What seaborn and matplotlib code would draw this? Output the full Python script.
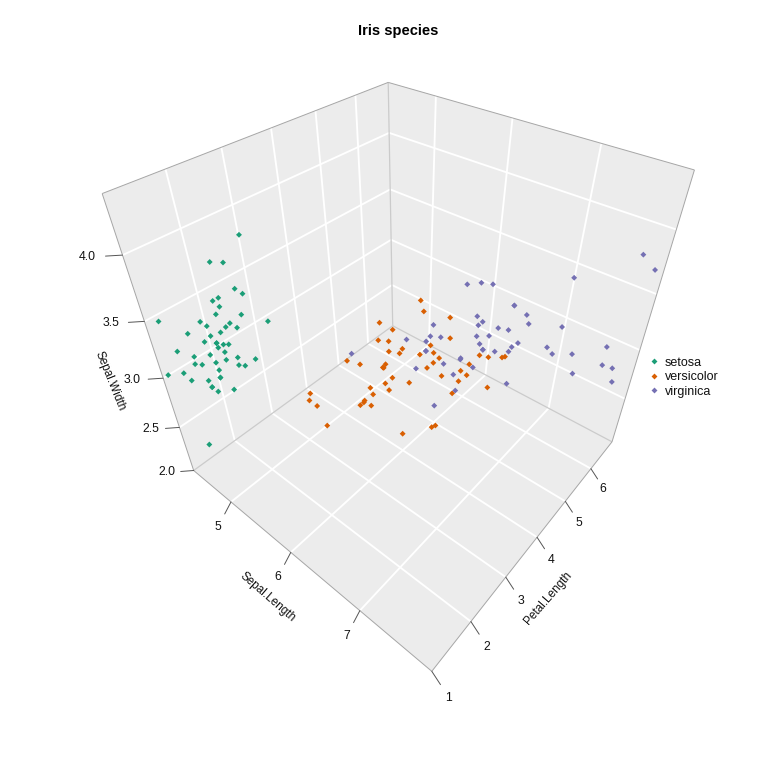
import numpy as np
import pandas as pd
import matplotlib
matplotlib.use("Agg")
import matplotlib.pyplot as plt
import seaborn as sns

# Iris measurements, one list per variable and species
setosa_sepal_length = [5.1,4.9,4.7,4.6,5.0,5.4,4.6,5.0,4.4,4.9,5.4,4.8,4.8,4.3,5.8,5.7,5.4,5.1,5.7,5.1,5.4,5.1,4.6,5.1,4.8,5.0,5.0,5.2,5.2,4.7,4.8,5.4,5.2,5.5,4.9,5.0,5.5,4.9,4.4,5.1,5.0,4.5,4.4,5.0,5.1,4.8,5.1,4.6,5.3,5.0]
setosa_sepal_width = [3.5,3.0,3.2,3.1,3.6,3.9,3.4,3.4,2.9,3.1,3.7,3.4,3.0,3.0,4.0,4.4,3.9,3.5,3.8,3.8,3.4,3.7,3.6,3.3,3.4,3.0,3.4,3.5,3.4,3.2,3.1,3.4,4.1,4.2,3.1,3.2,3.5,3.6,3.0,3.4,3.5,2.3,3.2,3.5,3.8,3.0,3.8,3.2,3.7,3.3]
setosa_petal_length = [1.4,1.4,1.3,1.5,1.4,1.7,1.4,1.5,1.4,1.5,1.5,1.6,1.4,1.1,1.2,1.5,1.3,1.4,1.7,1.5,1.7,1.5,1.0,1.7,1.9,1.6,1.6,1.5,1.4,1.6,1.6,1.5,1.5,1.4,1.5,1.2,1.3,1.4,1.3,1.5,1.3,1.3,1.3,1.6,1.9,1.4,1.6,1.4,1.5,1.4]

versicolor_sepal_length = [7.0,6.4,6.9,5.5,6.5,5.7,6.3,4.9,6.6,5.2,5.0,5.9,6.0,6.1,5.6,6.7,5.6,5.8,6.2,5.6,5.9,6.1,6.3,6.1,6.4,6.6,6.8,6.7,6.0,5.7,5.5,5.5,5.8,6.0,5.4,6.0,6.7,6.3,5.6,5.5,5.5,6.1,5.8,5.0,5.6,5.7,5.7,6.2,5.1,5.7]
versicolor_sepal_width = [3.2,3.2,3.1,2.3,2.8,2.8,3.3,2.4,2.9,2.7,2.0,3.0,2.2,2.9,2.9,3.1,3.0,2.7,2.2,2.5,3.2,2.8,2.5,2.8,2.9,3.0,2.8,3.0,2.9,2.6,2.4,2.4,2.7,2.7,3.0,3.4,3.1,2.3,3.0,2.5,2.6,3.0,2.6,2.3,2.7,3.0,2.9,2.9,2.5,2.8]
versicolor_petal_length = [4.7,4.5,4.9,4.0,4.6,4.5,4.7,3.3,4.6,3.9,3.5,4.2,4.0,4.7,3.6,4.4,4.5,4.1,4.5,3.9,4.8,4.0,4.9,4.7,4.3,4.4,4.8,5.0,4.5,3.5,3.8,3.7,3.9,5.1,4.5,4.5,4.7,4.4,4.1,4.0,4.4,4.6,4.0,3.3,4.2,4.2,4.2,4.3,3.0,4.1]

virginica_sepal_length = [6.3,5.8,7.1,6.3,6.5,7.6,4.9,7.3,6.7,7.2,6.5,6.4,6.8,5.7,5.8,6.4,6.5,7.7,7.7,6.0,6.9,5.6,7.7,6.3,6.7,7.2,6.2,6.1,6.4,7.2,7.4,7.9,6.4,6.3,6.1,7.7,6.3,6.4,6.0,6.9,6.7,6.9,5.8,6.8,6.7,6.7,6.3,6.5,6.2,5.9]
virginica_sepal_width = [3.3,2.7,3.0,2.9,3.0,3.0,2.5,2.9,2.5,3.6,3.2,2.7,3.0,2.5,2.8,3.2,3.0,3.8,2.6,2.2,3.2,2.8,2.8,2.7,3.3,3.2,2.8,3.0,2.8,3.0,2.8,3.8,2.8,2.8,2.6,3.0,3.4,3.1,3.0,3.1,3.1,3.1,2.7,3.2,3.3,3.0,2.5,3.0,3.4,3.0]
virginica_petal_length = [6.0,5.1,5.9,5.6,5.8,6.6,4.5,6.3,5.8,6.1,5.1,5.3,5.5,5.0,5.1,5.3,5.5,6.7,6.9,5.0,5.7,4.9,6.7,4.9,5.7,6.0,4.8,4.9,5.6,5.8,6.1,6.4,5.6,5.1,5.6,6.1,5.6,5.5,4.8,5.4,5.6,5.1,5.1,5.9,5.7,5.2,5.0,5.2,5.4,5.1]

species_names = ["setosa", "versicolor", "virginica"]
species_colors = ["#1B9E77", "#D95F02", "#7570B3"]
sepal_length_ticks = [5, 6, 7]
petal_length_ticks = [1, 2, 3, 4, 5, 6]
sepal_width_ticks = [2.0, 2.5, 3.0, 3.5, 4.0]

# Extent of the plotting box in data units
X0, X1 = 4.3, 7.9
Y0, Y1 = 1.0, 6.9
Z0, Z1 = 2.0, 4.4

# Camera calibration: box locations and where they fall on the canvas (pixels)
anchors = [
    ((X1, Y0, Z0), (432.2, 670.7)), ((X0, Y0, Z0), (194.0, 470.0)),
    ((X1, Y1, Z0), (612.0, 441.0)), ((X0, Y1, Z0), (392.7, 326.0)),
    ((X0, Y0, Z1), (102.7, 193.3)), ((X1, Y1, Z1), (694.3, 170.0)),
    ((X0, Y1, Z1), (388.3, 82.3)),
    ((5, Y0, Z0), (231.0, 501.7)), ((6, Y0, Z0), (291.0, 552.7)),
    ((7, Y0, Z0), (359.3, 611.0)),
    ((X1, 2, Z0), (471.0, 621.7)), ((X1, 3, Z0), (505.7, 577.3)),
    ((X1, 4, Z0), (537.0, 537.3)), ((X1, 5, Z0), (565.3, 501.7)),
    ((X1, 6, Z0), (591.0, 469.0)),
    ((X0, Y0, 2.5), (179.3, 427.3)), ((X0, Y0, 3.0), (162.7, 378.7)),
    ((X0, Y0, 3.5), (144.3, 321.3)), ((X0, Y0, 4.0), (122.3, 255.3)),
]


def fit_camera(pairs):
    """Least-squares 3x4 projective camera from 3D/2D correspondences."""
    rows, rhs = [], []
    for (x, y, z), (u, v) in pairs:
        rows.append([x, y, z, 1, 0, 0, 0, 0, -u * x, -u * y, -u * z])
        rows.append([0, 0, 0, 0, x, y, z, 1, -v * x, -v * y, -v * z])
        rhs += [u, v]
    p = np.linalg.lstsq(np.array(rows, float), np.array(rhs, float), rcond=None)[0]
    return np.append(p, 1.0).reshape(3, 4)


CAMERA = fit_camera(anchors)


def project(x, y, z):
    """Perspective projection of data coordinates onto the canvas."""
    pts = np.column_stack([np.ravel(x), np.ravel(y), np.ravel(z), np.ones(np.size(x))])
    h = pts @ CAMERA.T
    return h[:, 0] / h[:, 2], h[:, 1] / h[:, 2]


frames = []
for name, sl, sw, pl in [
    ("setosa", setosa_sepal_length, setosa_sepal_width, setosa_petal_length),
    ("versicolor", versicolor_sepal_length, versicolor_sepal_width, versicolor_petal_length),
    ("virginica", virginica_sepal_length, virginica_sepal_width, virginica_petal_length),
]:
    frames.append(pd.DataFrame({"Species": name, "Sepal.Length": sl,
                                "Sepal.Width": sw, "Petal.Length": pl}))
iris = pd.concat(frames, ignore_index=True)
iris["screen_x"], iris["screen_y"] = project(iris["Sepal.Length"], iris["Petal.Length"], iris["Sepal.Width"])

sns.set_theme(style="white")
plt.rcParams["font.family"] = ["Liberation Sans", "DejaVu Sans"]

fig = plt.figure(figsize=(7.68, 7.68), dpi=100)
ax = fig.add_axes([0, 0, 1, 1])

PANE = "#ECECEC"
OUTER = "#A6A6A6"
INNER = "#CBCBCB"
TEXT = "#111111"


def segment(a, b, **kw):
    xs, ys = project(*np.array([a, b], float).T)
    ax.plot(xs, ys, solid_capstyle="butt", **kw)


def pane(corners):
    xs, ys = project(*np.array(corners, float).T)
    ax.fill(xs, ys, color=PANE, lw=0, zorder=1)


# Three back panes of the box
pane([(X0, Y0, Z0), (X1, Y0, Z0), (X1, Y1, Z0), (X0, Y1, Z0)])
pane([(X0, Y0, Z0), (X0, Y1, Z0), (X0, Y1, Z1), (X0, Y0, Z1)])
pane([(X0, Y1, Z0), (X1, Y1, Z0), (X1, Y1, Z1), (X0, Y1, Z1)])

# White reference grid on each pane
grid = dict(color="white", lw=1.35, zorder=2)
for x in sepal_length_ticks:
    segment((x, Y0, Z0), (x, Y1, Z0), **grid)
    segment((x, Y1, Z0), (x, Y1, Z1), **grid)
for y in petal_length_ticks[1:]:
    segment((X0, y, Z0), (X1, y, Z0), **grid)
    segment((X0, y, Z0), (X0, y, Z1), **grid)
for z in sepal_width_ticks[1:]:
    segment((X0, Y0, z), (X0, Y1, z), **grid)
    segment((X0, Y1, z), (X1, Y1, z), **grid)

# Box outline
for a, b in [((X0, Y1, Z0), (X0, Y0, Z0)), ((X0, Y1, Z0), (X1, Y1, Z0)), ((X0, Y1, Z0), (X0, Y1, Z1))]:
    segment(a, b, color=INNER, lw=0.9, zorder=3)
for a, b in [((X0, Y0, Z0), (X1, Y0, Z0)), ((X1, Y0, Z0), (X1, Y1, Z0)),
             ((X0, Y0, Z0), (X0, Y0, Z1)), ((X1, Y1, Z0), (X1, Y1, Z1)),
             ((X0, Y0, Z1), (X0, Y1, Z1)), ((X0, Y1, Z1), (X1, Y1, Z1))]:
    segment(a, b, color=OUTER, lw=0.7, zorder=3)

sns.scatterplot(data=iris, x="screen_x", y="screen_y", hue="Species",
                hue_order=species_names, palette=species_colors, marker="D",
                s=9, linewidth=0, zorder=4, legend="brief", ax=ax)

tick = dict(color="#555555", lw=0.7, zorder=3)
label = dict(fontsize=8.8, color=TEXT, ha="center", va="center")
axis_title = dict(label, fontsize=8.5)

# Sepal.Width axis on the left vertical edge
for z in sepal_width_ticks:
    px, py = project(X0, Y0, z)
    t = z - 2.0
    ax.plot([px[0], px[0] - 13 - 2 * t], [py[0], py[0] + 1], **tick)
    ax.text(px[0] - 26.5 - 4.25 * t, py[0] + 2, f"{z:.1f}", **label)

# Sepal.Length axis on the front-left floor edge
for x in sepal_length_ticks:
    px, py = project(x, Y0, Z0)
    ax.plot([px[0], px[0] - 6.3], [py[0], py[0] + 12], **tick)
    ax.text(px[0] - 12.7, py[0] + 25, str(x), **label)

# Petal.Length axis on the front-right floor edge
for y in petal_length_ticks:
    px, py = project(X1, y, Z0)
    s = y - 1
    ax.plot([px[0], px[0] + 8.7 - 0.4 * s], [py[0], py[0] + 13.3 - 0.6 * s], **tick)
    ax.text(px[0] + 17 - 0.95 * s, py[0] + 26.3 - 1.2 * s, str(y), **label)

ax.text(110, 381, "Sepal.Width", rotation=-68, rotation_mode="anchor", **axis_title)
ax.text(268, 596.7, "Sepal.Length", rotation=-41, rotation_mode="anchor", **axis_title)
ax.text(547.7, 597.7, "Petal.Length", rotation=49, rotation_mode="anchor", **axis_title)
ax.text(398.5, 30.5, "Iris species", fontsize=10.5, fontweight="bold", color="black",
        ha="center", va="center")

ax.set_xlim(0, 768)
ax.set_ylim(768, 0)
ax.set_axis_off()

handles, labels = ax.get_legend_handles_labels()
ax.legend(handles, labels, loc="center left", bbox_to_anchor=(648, 377),
          bbox_transform=ax.transData, frameon=False, fontsize=9,
          labelspacing=0.2, handletextpad=0.35, handlelength=1.0,
          borderpad=0, borderaxespad=0, markerscale=1.0, labelcolor=TEXT)

fig.savefig("out.png", dpi=100, facecolor="white")
